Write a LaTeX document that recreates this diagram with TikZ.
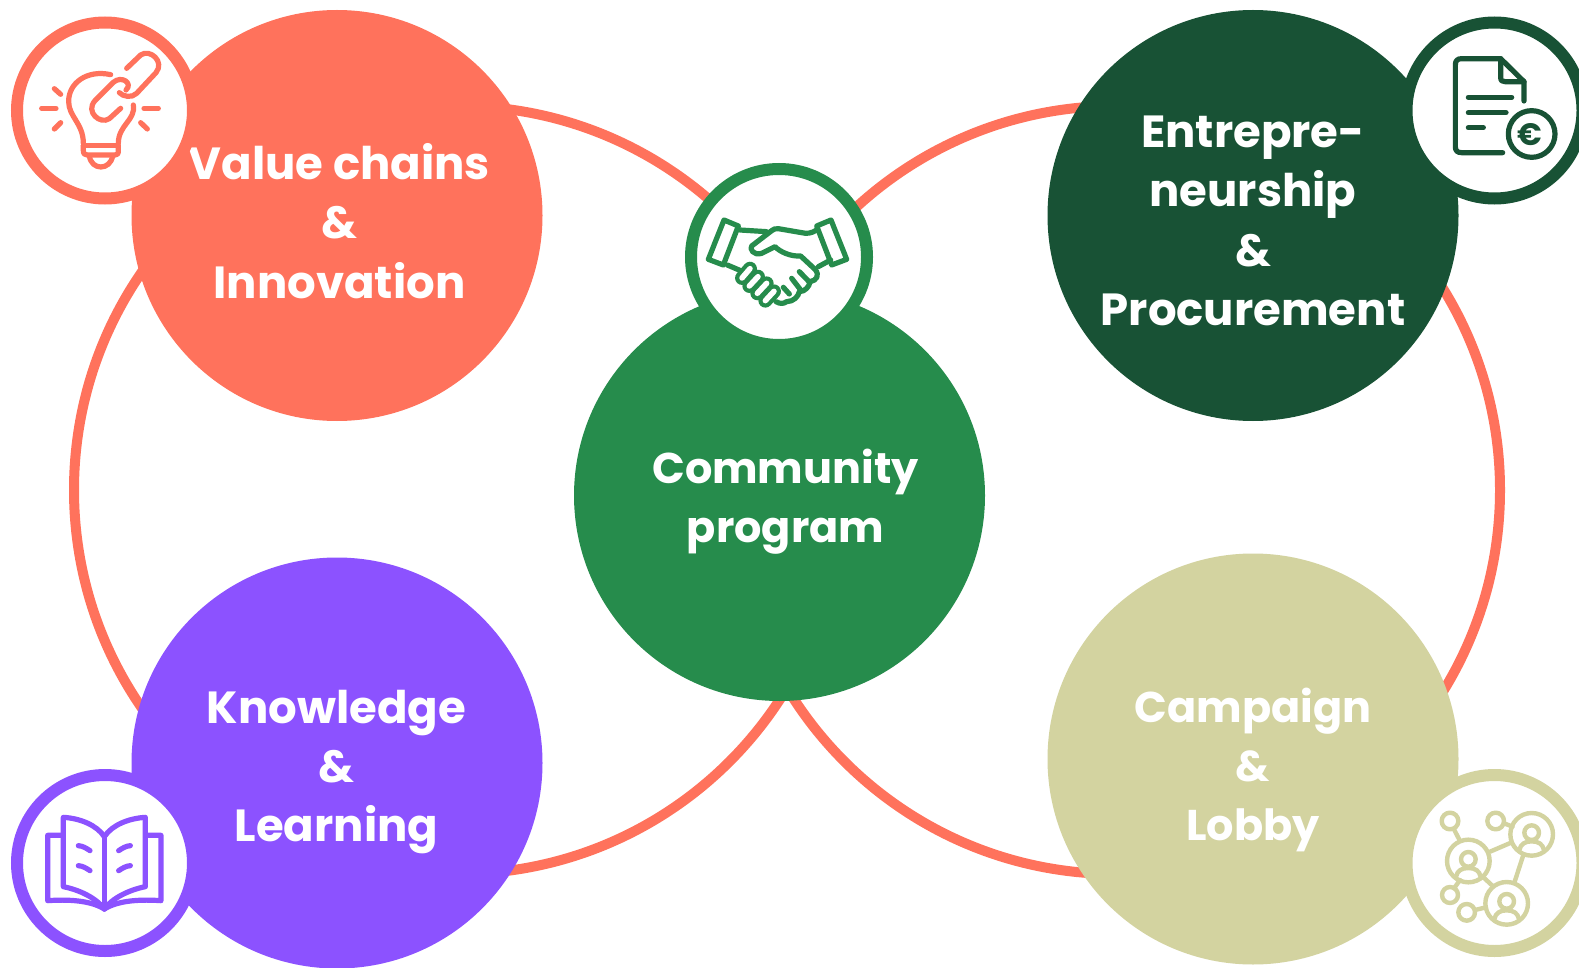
\documentclass[tikz,border=0pt]{standalone}
\usepackage{fontspec}
\setmainfont{Poppins}
\usetikzlibrary{positioning}
\definecolor{coral}{HTML}{FF725C}
\definecolor{forest}{HTML}{185235}
\definecolor{leaf}{HTML}{268C4C}
\definecolor{violet}{HTML}{8C52FF}
\definecolor{khaki}{HTML}{D3D3A0}
\tikzstyle{ring} = [circle, minimum size=768pt, outer sep=0pt, draw=coral, line width=10pt]
\tikzstyle{topic} = [circle, minimum size=411pt, outer sep=0pt]
\tikzstyle{badge} = [circle, minimum size=176pt, outer sep=0pt, fill=white, line width=12pt]
\tikzstyle{caption} = [align=center, text=white, inner sep=0pt, font=\fontsize{45}{59.4}\selectfont\bfseries]
\tikzstyle{smallcaption} = [caption, font=\fontsize{43}{59.4}\selectfont\bfseries]
\tikzstyle{glyph} = [line width=5.2pt, line cap=round, line join=round]

\begin{document}
\begin{tikzpicture}[x=1pt, y=-1pt]
          \useasboundingbox (0,0) rectangle (1579,968);
          \clip (0,0) rectangle (1579,968);

          \node (ringleft) [ring] at (458,490) {};
          \node (ringright) [ring, right = -110pt of ringleft] {};

          \node (value) [topic, fill=coral] at (337,215.5) {};
          \node (entre) [topic, fill=forest, right = 505pt of value] {};
          \node (knowledge) [topic, fill=violet, below = 136.5pt of value] {};
          \node (campaign) [topic, fill=khaki, right = 505pt of knowledge, yshift=4pt] {};
          \node (community) [topic, fill=leaf] at (779.5,495.5) {};

          \node (valuetext) [caption, xshift=2.5pt, yshift=-5.5pt] at (value) {Value chains\\\&\\Innovation};
          \node (entretext) [caption, yshift=-5.5pt] at (entre) {Entrepre-\\neurship\\\&\\Procurement};
          \node (knowledgetext) [caption, xshift=-0.5pt, yshift=-9pt] at (knowledge) {Knowledge\\\&\\Learning};
          \node (campaigntext) [smallcaption, yshift=-11pt] at (campaign) {Campaign\\\&\\Lobby};
          \node (communitytext) [smallcaption, xshift=6pt, yshift=-6pt] at (community) {Community\\program};

          \node (valuebadge) [badge, draw=coral] at (105,110.5) {};
          \node (entrebadge) [badge, draw=forest, right = 1213.5pt of valuebadge] {};
          \node (knowledgebadge) [badge, draw=violet, below = 576.5pt of valuebadge] {};
          \node (campaignbadge) [badge, draw=khaki, right = 1213.5pt of knowledgebadge] {};
          \node (communitybadge) [badge, draw=leaf] at (779,257) {};

          % bulb and chain
          \begin{scope}[shift={(0,0)}, scale=1/3, glyph, draw=coral]
            \draw (125,325) -- (168,325);
            \draw (163,266) -- (182,283);
            \draw (163,387) -- (182,368);
            \draw (432,325) -- (475,325);
            \draw (422,368) -- (442,387);
            \draw (332,224) .. controls (260,208) and (205,250) .. (206,305) .. controls (206,350) and (250,370) .. (250,430);
            \draw (400,315) .. controls (408,360) and (355,375) .. (355,430);
            \draw (250,437) -- (355,437);
            \draw (250,437) -- (250,452) .. controls (250,462) and (255,465) .. (262,465) -- (345,465) .. controls (352,465) and (355,462) .. (355,452) -- (355,437);
            \draw (268,468) .. controls (275,512) and (330,512) .. (338,468);
            \draw (362,325) -- (328,356) .. controls (300,375) and (255,335) .. (285,302) -- (340,247) .. controls (365,225) and (400,250) .. (378,270);
            \draw (380,205) -- (422,165) .. controls (450,145) and (495,185) .. (468,218) -- (410,280) .. controls (395,295) and (370,290) .. (358,278);
          \end{scope}

          % document and coin
          \begin{scope}[shift={(1380,0)}, scale=1/3, glyph, draw=forest]
            \draw (432,303) -- (432,245) -- (362,176) -- (245,176) .. controls (232,176) and (226,182) .. (226,195) -- (226,440) .. controls (226,452) and (232,458) .. (245,458) -- (368,458);
            \draw (362,176) -- (362,232) .. controls (362,242) and (366,245) .. (375,245) -- (432,245);
            \draw (265,292) -- (395,292);
            \draw (265,338) -- (378,338);
            \draw (265,383) -- (310,383);
            \draw (455,402) circle (70);
            \node (euro) [text=forest, inner sep=0pt, font=\fontsize{31}{31}\selectfont\bfseries] at (450,404) {€};
          \end{scope}

          % handshake
          \begin{scope}[shift={(670,150)}, scale=1/3, glyph, draw=leaf]
            \draw (162,210) -- (205,228) -- (160,345) -- (115,328) -- cycle;
            \draw (483,210) -- (440,228) -- (485,345) -- (530,328) -- cycle;
            \draw (210,240) -- (290,245);
            \draw (440,240) .. controls (425,250) and (410,252) .. (395,248) -- (325,236) .. controls (315,235) and (310,238) .. (305,242) -- (245,288) .. controls (238,296) and (250,318) .. (275,310) -- (315,290) .. controls (330,305) and (360,320) .. (392,318) -- (435,358) .. controls (450,375) and (440,392) .. (420,395) .. controls (418,410) and (405,425) .. (388,425) .. controls (385,440) and (370,455) .. (350,455) .. controls (340,462) and (330,462) .. (318,455);
            \draw (172,345) -- (212,362);
            \draw (445,350) -- (482,330);
            \draw (388,365) -- (420,398);
            \draw (365,385) -- (392,420);
            \draw (340,412) -- (358,432);
            \draw [line width=4.2pt, double=white, double distance=5.5pt] (216,384) -- (240,356);
            \draw [line width=4.2pt, double=white, double distance=5.5pt] (238,408) -- (264,380);
            \draw [line width=4.2pt, double=white, double distance=5.5pt] (262,430) -- (290,400);
            \draw [line width=4.2pt, double=white, double distance=5.5pt] (286,452) -- (312,424);
          \end{scope}

          % open book
          \begin{scope}[shift={(0,760)}, scale=1/3, glyph, draw=violet]
            \draw (188,226) -- (143,226) -- (143,422) .. controls (200,418) and (270,420) .. (313,447) .. controls (356,420) and (426,418) .. (483,422) -- (483,226) -- (438,226);
            \draw (313,230) .. controls (290,195) and (240,175) .. (190,172) -- (190,380) .. controls (240,390) and (290,415) .. (313,447);
            \draw (313,230) .. controls (336,195) and (386,175) .. (436,172) -- (436,380) .. controls (386,390) and (336,415) .. (313,447);
            \draw (313,230) -- (313,447);
            \draw (235,257) .. controls (248,258) and (258,264) .. (270,272);
            \draw (235,317) .. controls (248,318) and (258,324) .. (270,332);
            \draw (391,257) .. controls (378,258) and (368,264) .. (356,272);
            \draw (391,317) .. controls (378,318) and (368,324) .. (356,332);
          \end{scope}

          % network of people
          \begin{scope}[shift={(1380,760)}, scale=1/3, glyph, line width=4.4pt, draw=khaki]
            \draw (210,183) circle (25);
            \draw (347,183) circle (25);
            \draw (210,405) circle (24);
            \draw (260,457) circle (25);
            \draw (265,303) circle (64);
            \draw (455,223) circle (64);
            \draw (380,430) circle (64);
            \draw (265,298) circle (22);
            \draw (455,218) circle (22);
            \draw (380,424) circle (22);
            \draw (228,350) .. controls (232,332) and (245,324) .. (265,324) .. controls (285,324) and (298,332) .. (302,350);
            \draw (418,270) .. controls (422,252) and (435,244) .. (455,244) .. controls (475,244) and (488,252) .. (492,270);
            \draw (343,477) .. controls (347,459) and (360,451) .. (380,451) .. controls (400,451) and (413,459) .. (417,477);
            \draw (222,208) -- (240,243);
            \draw (372,190) -- (398,200);
            \draw (330,275) -- (393,248);
            \draw (430,285) -- (403,368);
            \draw (308,350) -- (336,376);
            \draw (222,385) -- (240,360);
            \draw (285,450) -- (318,442);
          \end{scope}
        \end{tikzpicture}
\end{document}
